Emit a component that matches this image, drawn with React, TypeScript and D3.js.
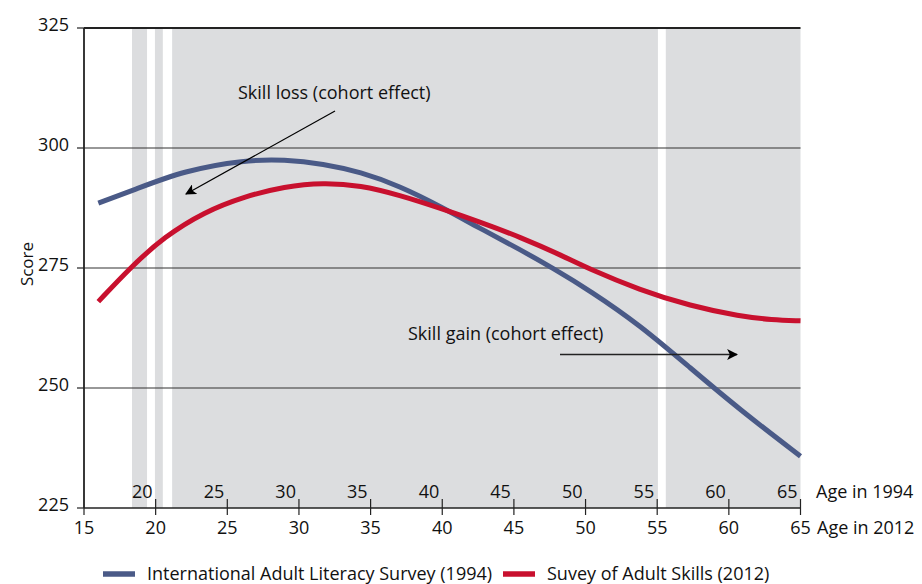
import React from "react";
import * as d3 from "d3";

// ---- data ----
const ialsAges = [16.0, 18.5, 22.0, 26.2, 29.0, 31.7, 34.3, 37.0, 39.9, 42.6, 45.4, 47.7, 50.3, 53.8, 57.3, 60.8, 65.0];
const ialsScores = [288.5, 291.3, 295.3, 297.5, 297.6, 296.7, 295.0, 292.1, 287.8, 283.3, 278.9, 275.0, 270.3, 263.1, 254.2, 245.4, 235.8];

const piaacAges = [16.0, 18.3, 20.6, 23.4, 26.2, 29.0, 31.7, 34.3, 37.0, 39.9, 42.6, 45.4, 48.5, 50.1, 53.8, 57.3, 60.8, 63.0, 65.0];
const piaacScores = [268.0, 275.3, 281.5, 286.7, 289.9, 292.0, 292.8, 292.2, 290.2, 287.4, 284.6, 281.5, 277.4, 275.0, 270.4, 267.1, 264.9, 264.2, 264.0];

const yTicks = [225, 250, 275, 300, 325];
const xTicks2012 = [15, 20, 25, 30, 35, 40, 45, 50, 55, 60, 65];
const xTicks1994 = [20, 25, 30, 35, 40, 45, 50, 55, 60, 65];
const bands: [number, number][] = [[18.35, 19.4], [19.95, 20.5], [21.15, 55.05], [55.6, 65]];

const seriesNames = ["International Adult Literacy Survey (1994)", "Suvey of Adult Skills (2012)"];
const seriesColors = ["#4a5a87", "#c8102e"];

const FONT = "'Open Sans', 'Noto Sans', sans-serif";

export default function App() {
  const W = 922, H = 584;
  const x = d3.scaleLinear().domain([15, 65]).range([84, 800.5]);
  const y = d3.scaleLinear().domain([225, 325]).range([508, 28]);

  const line = d3
    .line<[number, number]>()
    .x((d) => x(d[0]))
    .y((d) => y(d[1]))
    .curve(d3.curveBasis);

  const blue = line(ialsAges.map((a, i) => [a, ialsScores[i]] as [number, number])) || "";
  const red = line(piaacAges.map((a, i) => [a, piaacScores[i]] as [number, number])) || "";

  const fs = 18;

  return (
    <svg width={W} height={H} style={{ position: "absolute", left: 0, top: 0, background: "#fff" }} fontFamily={FONT}>
      <defs>
        <marker id="ah" viewBox="0 0 10 10" refX="9" refY="5" markerWidth="11" markerHeight="11" markerUnits="userSpaceOnUse" orient="auto">
          <path d="M0,0 L10,5 L0,10 L2.5,5 Z" fill="#000" />
        </marker>
      </defs>
      {/* grey bands */}
      {bands.map(([a, b], i) => (
        <rect key={i} x={x(a)} y={y(325)} width={x(b) - x(a)} height={y(225) - y(325)} fill="#dcdddf" />
      ))}
      {/* gridlines */}
      {yTicks.filter((t) => t > 225).map((t) => (
        <line key={t} x1={x(15)} x2={x(65)} y1={y(t)} y2={y(t)} stroke={t === 325 ? "#222" : "#333"} strokeWidth={t === 325 ? 1.8 : 1.1} />
      ))}
      {/* y axis */}
      <line x1={x(15)} x2={x(15)} y1={y(325)} y2={y(225)} stroke="#222" strokeWidth={1.8} />
      {yTicks.map((t) => (
        <g key={t}>
          <line x1={77} x2={x(15)} y1={y(t)} y2={y(t)} stroke="#222" strokeWidth={1.2} />
          <text x={69} y={y(t) + 2.5} textAnchor="end" fontSize={fs} fill="#111">{t}</text>
        </g>
      ))}
      <text transform={`translate(33,264) rotate(-90)`} textAnchor="middle" fontSize={17} fill="#111">Score</text>
      {/* x axis */}
      <line x1={x(15)} x2={x(65)} y1={y(225)} y2={y(225)} stroke="#222" strokeWidth={1.5} />
      {xTicks2012.map((t) => (
        <g key={t}>
          <line x1={x(t)} x2={x(t)} y1={t === 15 ? y(225) : 499} y2={515} stroke="#222" strokeWidth={1.2} />
          <text x={x(t)} y={534} textAnchor="middle" fontSize={fs} fill="#111">{t}</text>
        </g>
      ))}
      {xTicks1994.map((t, i) => (
        <text key={t} x={x(xTicks2012[i + 1]) - 3} y={498} textAnchor="end" fontSize={fs} fill="#111">{t}</text>
      ))}
      <text x={816} y={498} fontSize={fs} fill="#111">Age in 1994</text>
      <text x={817} y={534} fontSize={fs} fill="#111">Age in 2012</text>
      {/* curves */}
      <path d={blue} fill="none" stroke={seriesColors[0]} strokeWidth={5} />
      <path d={red} fill="none" stroke={seriesColors[1]} strokeWidth={5} />
      {/* annotations */}
      <text x={238} y={99} fontSize={fs} fill="#111">Skill loss (cohort effect)</text>
      <line x1={335} y1={111} x2={186} y2={194} stroke="#000" strokeWidth={1.2} markerEnd="url(#ah)" />
      <text x={408} y={340} fontSize={fs} fill="#111">Skill gain (cohort effect)</text>
      <line x1={560} y1={354.5} x2={737} y2={354.5} stroke="#222" strokeWidth={1.3} markerEnd="url(#ah)" />
      {/* legend */}
      <line x1={103} x2={135} y1={574} y2={574} stroke={seriesColors[0]} strokeWidth={5.5} />
      <text x={147} y={580} fontSize={fs} fill="#111">{seriesNames[0]}</text>
      <line x1={503} x2={535} y1={574} y2={574} stroke={seriesColors[1]} strokeWidth={5.5} />
      <text x={547} y={580} fontSize={fs} fill="#111">{seriesNames[1]}</text>
    </svg>
  );
}
